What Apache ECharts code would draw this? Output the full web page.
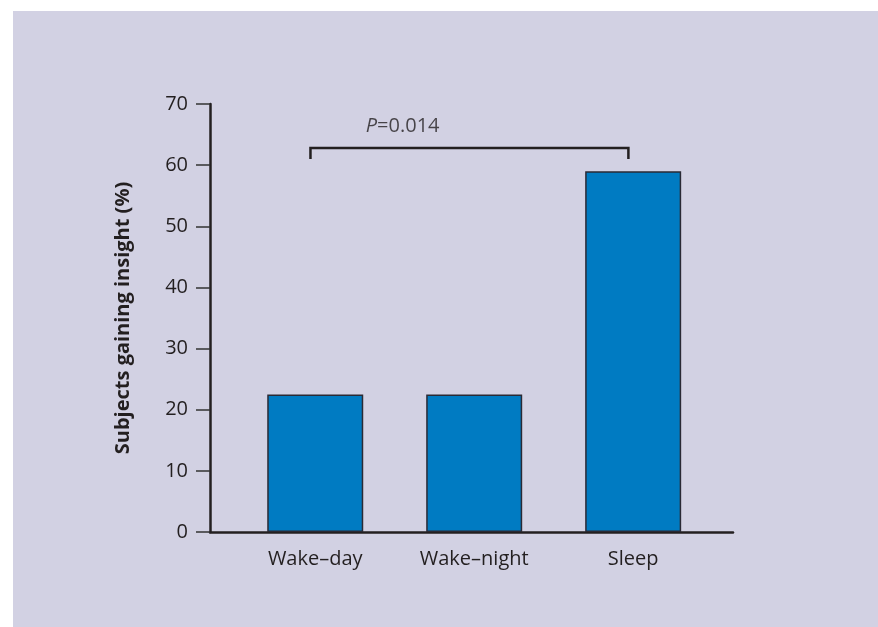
<!DOCTYPE html>
<html>
<head>
<meta charset="utf-8">
<script src="https://cdn.jsdelivr.net/npm/echarts@6/dist/echarts.min.js"></script>
<style>
  html, body { margin: 0; padding: 0; background: #ffffff; }
  #main { position: absolute; left: 13px; top: 11px; width: 865px; height: 616px; }
</style>
</head>
<body>
<div id="main"></div>
<script>
// categories and values
var categories = ['Wake\u2013day', 'Wake\u2013night', 'Sleep'];
var insightPct = [22.5, 22.5, 59];
var yTicks = [0, 10, 20, 30, 40, 50, 60, 70];

// significance bracket between Wake-day and Sleep
var bracketX = [-0.03, -0.03, 1.97, 1.97];
var bracketY = [61.0, 62.8, 62.8, 61.0];
var pLabelPos = [0.55, 66.4];
var pValue = '0.014';

var ink = '#231f20';
var fontFam = '"Open Sans", "Noto Sans", sans-serif';

var barData = [];
for (var i = 0; i < categories.length; i++) {
  barData.push([i, insightPct[i]]);
}
var bracketData = [];
for (var j = 0; j < bracketX.length; j++) {
  bracketData.push([bracketX[j], bracketY[j]]);
}

var myChart = echarts.init(document.getElementById('main'));

var option = {
  backgroundColor: '#d2d1e3',
  animation: false,
  grid: {
    left: 197,
    right: 145,
    top: 93,
    bottom: 95
  },
  xAxis: {
    type: 'value',
    min: -0.662,
    max: 2.628,
    splitLine: { show: false },
    axisLine: { show: true, onZero: false, lineStyle: { color: ink, width: 2.5 } },
    axisTick: { show: false },
    axisLabel: {
      customValues: [0, 1, 2],
      formatter: function (v) { return categories[Math.round(v)]; },
      color: ink,
      fontFamily: fontFam,
      fontSize: 20,
      margin: 17
    }
  },
  yAxis: {
    type: 'value',
    min: yTicks[0],
    max: yTicks[yTicks.length - 1],
    interval: 10,
    name: 'Subjects gaining insight (%)',
    nameLocation: 'middle',
    nameGap: 77,
    nameTextStyle: {
      color: ink,
      fontFamily: fontFam,
      fontSize: 20,
      fontWeight: 'bold'
    },
    splitLine: { show: false },
    axisLine: { show: true, onZero: false, lineStyle: { color: ink, width: 2.5 } },
    axisTick: { show: true, length: 14, lineStyle: { color: '#333333', width: 1.5 } },
    axisLabel: {
      color: ink,
      fontFamily: fontFam,
      fontSize: 20,
      margin: 22
    }
  },
  series: [
    {
      type: 'bar',
      data: barData,
      barWidth: 96,
      itemStyle: {
        color: '#007bc2',
        borderColor: '#2a2a35',
        borderWidth: 1.5
      },
      z: 2
    },
    {
      type: 'line',
      data: bracketData,
      showSymbol: false,
      symbol: 'none',
      lineStyle: { color: ink, width: 2.5, join: 'miter', cap: 'butt' },
      silent: true,
      z: 3
    },
    {
      type: 'scatter',
      data: [pLabelPos],
      symbolSize: 0,
      silent: true,
      label: {
        show: true,
        position: 'inside',
        formatter: '{i|P}{n|=' + pValue + '}',
        rich: {
          i: { fontStyle: 'italic', fontSize: 20, color: ink, fontFamily: fontFam },
          n: { fontSize: 20, color: ink, fontFamily: fontFam }
        }
      }
    }
  ]
};

myChart.setOption(option);
</script>
</body>
</html>
